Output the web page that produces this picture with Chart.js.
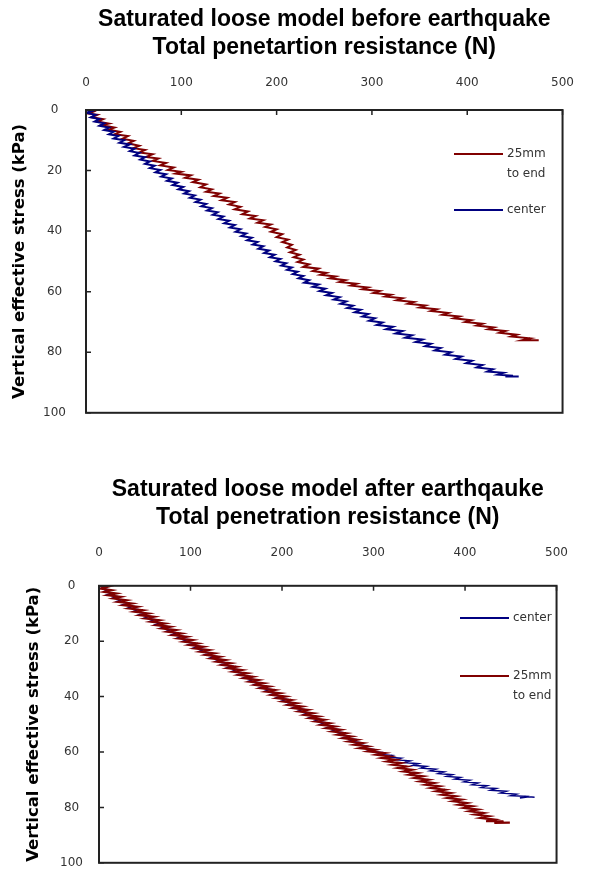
<!DOCTYPE html>
<html>
<head>
<meta charset="utf-8">
<script src="https://cdn.jsdelivr.net/npm/chart.js@4"></script>
<style>
  body { margin: 0; background: #fff; }
  canvas { display: block; }
</style>
</head>
<body>
<canvas id="beforeChart" width="594" height="440"></canvas>
<canvas id="afterChart" width="594" height="446"></canvas>
<script>
const xTicks = [0, 100, 200, 300, 400, 500];
const yTicks = [0, 20, 40, 60, 80, 100];
const seriesLabels = ["25mm to end", "center"];

// [resistance N, stress kPa]
const beforeEdge = [[0,0],[8,0.5],[3,1.2],[12,1.6],[6,2.4],[18,3],[12,3.8],[24,4.5],[17,5],[30,5.8],[24,6.5],[36,7.2],[30,8],[44,8.6],[38,9.5],[50,10.2],[44,11],[56,11.8],[50,12.6],[62,13.2],[56,14],[70,14.6],[63,15.5],[76,16],[70,16.8],[84,17.5],[78,18.3],[92,19],[86,19.8],[100,20.4],[94,21],[110,21.6],[104,22.4],[118,23],[112,23.8],[126,24.6],[120,25.5],[132,26.2],[126,27],[140,27.6],[134,28.4],[148,29],[142,29.8],[156,30.4],[150,31.2],[162,32],[156,32.8],[170,33.5],[164,34.4],[178,35],[172,35.8],[186,36.4],[180,37.2],[194,37.8],[188,38.6],[200,39.4],[194,40.2],[206,41],[200,42],[212,42.8],[206,43.6],[216,44.5],[211,45.4],[220,46.2],[214,47],[224,47.8],[218,48.6],[228,49.4],[222,50.2],[234,51],[228,51.8],[244,52.4],[238,53.2],[252,53.8],[246,54.4],[262,55],[256,55.6],[272,56.2],[266,56.8],[284,57.4],[278,58],[296,58.6],[290,59.2],[308,59.8],[302,60.4],[320,61],[314,61.6],[332,62.2],[326,62.8],[344,63.4],[338,64],[356,64.6],[350,65.2],[368,65.8],[362,66.4],[380,67],[374,67.6],[392,68.2],[386,68.8],[404,69.4],[398,70],[416,70.6],[410,71.2],[428,71.8],[422,72.4],[440,73],[434,73.6],[452,74.2],[446,74.8],[466,75.4],[458,76],[475,76]];

const beforeCenter = [[0,0],[6,0.4],[1,1],[10,1.6],[5,2.4],[14,3],[9,3.8],[19,4.4],[14,5.2],[24,5.8],[19,6.6],[29,7.2],[24,8],[34,8.6],[29,9.4],[40,10],[35,10.8],[46,11.4],[40,12.2],[51,12.8],[46,13.6],[56,14.2],[51,15],[62,15.6],[57,16.4],[67,17],[62,17.8],[72,18.4],[67,19.2],[78,19.8],[73,20.6],[84,21.2],[79,22],[90,22.6],[85,23.4],[96,24],[91,24.8],[102,25.4],[97,26.2],[108,26.8],[103,27.6],[114,28.2],[109,29],[120,29.6],[115,30.4],[126,31],[121,31.8],[132,32.4],[127,33.2],[138,33.8],[133,34.6],[144,35.2],[139,36],[150,36.6],[145,37.4],[156,38],[151,38.8],[162,39.4],[157,40.2],[168,40.8],[163,41.6],[174,42.2],[169,43],[180,43.6],[175,44.4],[186,45],[181,45.8],[192,46.4],[187,47.2],[198,47.8],[193,48.6],[204,49.2],[199,50],[210,50.6],[205,51.4],[216,52],[211,52.8],[222,53.4],[217,54.2],[228,54.8],[223,55.6],[234,56.2],[229,57],[244,57.6],[238,58.4],[251,59],[245,59.8],[258,60.4],[252,61.2],[266,61.8],[260,62.6],[273,63.2],[267,64],[280,64.6],[274,65.4],[288,66],[282,66.8],[296,67.4],[290,68.2],[303,68.8],[297,69.6],[311,70.2],[305,71],[322,71.6],[315,72.4],[332,73],[325,73.8],[342,74.4],[335,75.2],[353,75.8],[346,76.6],[362,77.2],[356,78],[372,78.6],[366,79.4],[383,80],[377,80.8],[394,81.4],[388,82.2],[405,82.8],[399,83.6],[416,84.2],[410,85],[427,85.6],[421,86.4],[438,86.8],[432,87.4],[448,87.8],[440,88],[454,88]];

const afterCenter = [[0,0],[8,0.2],[3,0.8],[10,1.4],[6,2],[14,2.6],[9,3.2],[19,3.8],[15,4.4],[25,5],[20,5.6],[31,6.2],[26,6.8],[37,7.4],[32,8],[43,8.6],[38,9.2],[49,9.8],[44,10.4],[55,11],[50,11.6],[61,12.2],[56,12.8],[67,13.4],[62,14],[73,14.6],[68,15.2],[79,15.8],[74,16.4],[85,17],[80,17.6],[91,18.2],[86,18.8],[97,19.4],[92,20],[103,20.6],[98,21.2],[109,21.8],[104,22.4],[115,23],[110,23.6],[121,24.2],[116,24.8],[127,25.4],[122,26],[133,26.6],[128,27.2],[139,27.8],[134,28.4],[145,29],[140,29.6],[151,30.2],[146,30.8],[157,31.4],[152,32],[163,32.6],[158,33.2],[169,33.8],[164,34.4],[175,35],[170,35.6],[181,36.2],[176,36.8],[187,37.4],[182,38],[193,38.6],[188,39.2],[199,39.8],[194,40.4],[205,41],[200,41.6],[211,42.2],[206,42.8],[217,43.4],[212,44],[223,44.6],[218,45.2],[229,45.8],[224,46.4],[235,47],[230,47.6],[241,48.2],[236,48.8],[247,49.4],[242,50],[254,50.6],[249,51.2],[260,51.8],[255,52.4],[266,53],[261,53.6],[272,54.2],[267,54.8],[279,55.4],[274,56],[285,56.6],[280,57.2],[292,57.8],[287,58.4],[299,59],[294,59.6],[310,60.2],[304,60.8],[320,61.2],[314,61.8],[330,62.2],[324,62.8],[340,63.2],[334,63.8],[349,64.2],[343,64.8],[358,65.2],[352,65.8],[368,66.2],[362,66.8],[377,67.2],[371,67.8],[386,68.2],[380,68.8],[395,69.2],[389,69.8],[405,70.2],[399,70.8],[414,71.2],[408,71.8],[424,72.2],[418,72.8],[434,73.2],[428,73.8],[445,74.2],[439,74.8],[456,75.2],[450,75.8],[466,76],[460,76.6],[470,76.2],[476,76.3]];

const afterEdge = [[0,0],[10,0.3],[2,1],[14,1.6],[6,2.2],[19,2.8],[10,3.4],[24,4],[16,4.6],[30,5.2],[21,5.8],[36,6.4],[27,7],[42,7.6],[33,8.2],[48,8.8],[39,9.4],[54,10],[45,10.6],[60,11.2],[51,11.8],[66,12.4],[57,13],[72,13.6],[63,14.2],[78,14.8],[69,15.4],[84,16],[75,16.6],[90,17.2],[81,17.8],[96,18.4],[87,19],[102,19.6],[93,20.2],[108,20.8],[99,21.4],[114,22],[105,22.6],[120,23.2],[111,23.8],[126,24.4],[117,25],[132,25.6],[123,26.2],[138,26.8],[129,27.4],[144,28],[135,28.6],[150,29.2],[141,29.8],[156,30.4],[147,31],[162,31.6],[153,32.2],[168,32.8],[159,33.4],[174,34],[165,34.6],[180,35.2],[171,35.8],[186,36.4],[177,37],[192,37.6],[183,38.2],[198,38.8],[189,39.4],[204,40],[195,40.6],[210,41.2],[201,41.8],[216,42.4],[207,43],[222,43.6],[213,44.2],[228,44.8],[219,45.4],[234,46],[225,46.6],[240,47.2],[231,47.8],[246,48.4],[237,49],[252,49.6],[243,50.2],[258,50.8],[249,51.4],[264,52],[255,52.6],[270,53.2],[261,53.8],[276,54.4],[267,55],[282,55.6],[273,56.2],[288,56.8],[279,57.4],[294,58],[285,58.6],[302,59.2],[294,59.8],[312,60.4],[303,61],[318,61.6],[309,62.2],[324,62.8],[315,63.4],[330,64],[321,64.6],[336,65.2],[327,65.8],[342,66.4],[333,67],[348,67.6],[339,68.2],[354,68.8],[345,69.4],[360,70],[351,70.6],[366,71.2],[357,71.8],[372,72.4],[363,73],[378,73.6],[369,74.2],[384,74.8],[375,75.4],[390,76],[381,76.6],[396,77.2],[387,77.8],[402,78.4],[393,79],[408,79.6],[399,80.2],[414,80.8],[405,81.4],[420,82],[411,82.6],[426,83.2],[417,83.8],[432,84.4],[423,85],[442,85],[432,85.6],[449,85.5]];

const RED = "#800000";
const BLUE = "#000080";
const tickFont = { family: "DejaVu Sans", size: 12 };

const toPoints = (arr) => arr.map(([x, y]) => ({ x, y }));

// frame + inward tick marks, like the old spreadsheet plot
const framePlugin = {
  id: "frame",
  afterDatasetsDraw(chart) {
    const { ctx, chartArea: a, scales } = chart;
    ctx.save();
    ctx.strokeStyle = "#222";
    ctx.lineWidth = 2;
    ctx.strokeRect(a.left, a.top, a.right - a.left, a.bottom - a.top);
    ctx.lineWidth = 1.5;
    ctx.beginPath();
    scales.x.ticks.forEach((t) => {
      const px = scales.x.getPixelForValue(t.value);
      ctx.moveTo(px, a.top);
      ctx.lineTo(px, a.top + 5);
    });
    scales.y.ticks.forEach((t) => {
      const py = scales.y.getPixelForValue(t.value);
      ctx.moveTo(a.left, py);
      ctx.lineTo(a.left + 5, py);
    });
    ctx.stroke();
    ctx.restore();
  }
};

// legend sitting inside the plot area
const innerLegend = {
  id: "innerLegend",
  afterDraw(chart, args, opts) {
    const { ctx } = chart;
    ctx.save();
    ctx.font = "12px 'DejaVu Sans'";
    ctx.fillStyle = "#333";
    ctx.textBaseline = "middle";
    opts.items.forEach((it) => {
      const ds = chart.data.datasets[it.index];
      ctx.strokeStyle = ds.borderColor;
      ctx.lineWidth = 2;
      ctx.beginPath();
      ctx.moveTo(opts.x, it.y);
      ctx.lineTo(opts.x + 49, it.y);
      ctx.stroke();
      it.lines.forEach((txt, i) => ctx.fillText(txt, opts.x + 53, it.y + i * 20));
    });
    ctx.restore();
  }
};

const makeChart = (id, cfg) => new Chart(document.getElementById(id), {
  type: "scatter",
  data: { datasets: cfg.datasets },
  options: {
    responsive: false,
    animation: false,
    layout: { padding: cfg.padding },
    elements: { point: { radius: 0 }, line: { tension: 0 } },
    plugins: {
      legend: { display: false },
      tooltip: { enabled: false },
      title: {
        display: true,
        fullSize: false,
        text: cfg.title,
        color: "#000",
        font: { family: "Liberation Sans", size: 23, weight: "bold", lineHeight: 1.2 },
        padding: cfg.titlePad
      },
      innerLegend: cfg.legend
    },
    scales: {
      x: {
        type: "linear",
        position: "top",
        min: xTicks[0],
        max: xTicks[xTicks.length - 1],
        afterBuildTicks: (s) => { s.ticks = xTicks.map((v) => ({ value: v })); },
        afterFit: (s) => { s.height = cfg.xHeight; },
        ticks: { font: tickFont, color: "#333", padding: cfg.xPad },
        grid: { display: false, drawTicks: false },
        border: { display: false }
      },
      y: {
        type: "linear",
        reverse: true,
        min: yTicks[0],
        max: yTicks[yTicks.length - 1],
        afterBuildTicks: (s) => { s.ticks = yTicks.map((v) => ({ value: v })); },
        afterFit: (s) => { s.width = cfg.yWidth; },
        ticks: { font: tickFont, color: "#333", padding: cfg.yPad, crossAlign: "center" },
        grid: { display: false, drawTicks: false },
        border: { display: false },
        title: {
          display: true,
          text: "Vertical effective stress (kPa)",
          color: "#000",
          font: { family: "DejaVu Sans", size: 16.5, weight: "bold" },
          padding: { top: cfg.yTitlePad, bottom: 0 }
        }
      }
    }
  },
  plugins: [framePlugin, innerLegend]
});

makeChart("beforeChart", {
  title: ["Saturated loose model before earthquake", "Total penetartion resistance (N)"],
  titlePad: { top: 6, bottom: 8 },
  padding: { left: 0, right: 17, top: 0, bottom: 16 },
  xHeight: 40.8, xPad: 20, yWidth: 86, yPad: 20, yTitlePad: 10,
  datasets: [
    { label: seriesLabels[0], data: toPoints(beforeEdge), showLine: true, borderColor: RED, borderWidth: 2, order: 1 },
    { label: seriesLabels[1], data: toPoints(beforeCenter), showLine: true, borderColor: BLUE, borderWidth: 2, order: 0 }
  ],
  legend: { x: 454, items: [{ index: 0, y: 154, lines: ["25mm", "to end"] }, { index: 1, y: 210, lines: ["center"] }] }
});

makeChart("afterChart", {
  title: ["Saturated loose model after earthqauke", "Total penetration resistance (N)"],
  titlePad: { top: 36, bottom: 8 },
  padding: { left: 0, right: 15, top: 0, bottom: 4 },
  xHeight: 46.6, xPad: 26, yWidth: 99, yPad: 16, yTitlePad: 24,
  datasets: [
    { label: seriesLabels[0], data: toPoints(afterEdge), showLine: true, borderColor: RED, borderWidth: 2.2, order: 0 },
    { label: seriesLabels[1], data: toPoints(afterCenter), showLine: true, borderColor: BLUE, borderWidth: 1.5, order: 1 }
  ],
  legend: { x: 460, items: [{ index: 1, y: 178, lines: ["center"] }, { index: 0, y: 236, lines: ["25mm", "to end"] }] }
});
</script>
</body>
</html>
